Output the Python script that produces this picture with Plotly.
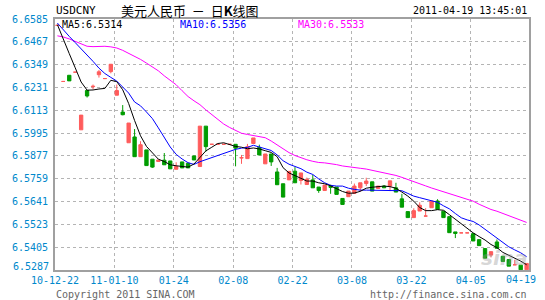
import plotly.graph_objects as go

# ---------------- data ----------------
date_labels = ["10-12-22", "11-01-10", "01-24", "02-08", "02-22",
               "03-08", "03-22", "04-05", "04-19"]
y_labels = ["6.6585", "6.6467", "6.6349", "6.6231", "6.6113", "6.5995",
            "6.5877", "6.5759", "6.5641", "6.5523", "6.5405", "6.5287"]

open_ = [6.6552, 6.6262, 6.6294, 6.6310, 6.6012, 6.6215, 6.6235, 6.6297, 6.6277, 6.6313,
         6.6191, 6.6104, 6.5945, 6.5975, 6.5873, 6.5908, 6.5860, 6.5848, 6.5855, 6.5851,
         6.5808, 6.5846, 6.5839, 6.5877, 6.5822, 6.6031, 6.5937, 6.5937, 6.5937, 6.5937,
         6.5937, 6.5866, 6.5863, 6.5941, 6.5921, 6.5836, 6.5887, 6.5794, 6.5733, 6.5753,
         6.5798, 6.5750, 6.5729, 6.5753, 6.5716, 6.5698, 6.5720, 6.5716, 6.5657, 6.5666,
         6.5683, 6.5712, 6.5734, 6.5743, 6.5709, 6.5721, 6.5721, 6.5712, 6.5655, 6.5589,
         6.5558, 6.5592, 6.5566, 6.5609, 6.5644, 6.5591, 6.5563, 6.5484, 6.5479, 6.5479,
         6.5475, 6.5444, 6.5398, 6.5364, 6.5432, 6.5358, 6.5341, 6.5314, 6.5312, 6.5288]
high = [6.6552, 6.6262, 6.6294, 6.6310, 6.6088, 6.6215, 6.6246, 6.6321, 6.6277, 6.6351,
        6.6246, 6.6140, 6.6047, 6.6016, 6.5953, 6.5908, 6.5860, 6.5856, 6.5892, 6.5851,
        6.5844, 6.5846, 6.5839, 6.5877, 6.6031, 6.6031, 6.5937, 6.5937, 6.5937, 6.5937,
        6.5937, 6.5882, 6.5939, 6.5970, 6.5935, 6.5887, 6.5887, 6.5815, 6.5733, 6.5797,
        6.5819, 6.5789, 6.5765, 6.5779, 6.5716, 6.5726, 6.5728, 6.5716, 6.5657, 6.5695,
        6.5734, 6.5738, 6.5764, 6.5743, 6.5721, 6.5726, 6.5748, 6.5738, 6.5681, 6.5589,
        6.5606, 6.5637, 6.5607, 6.5644, 6.5653, 6.5591, 6.5563, 6.5484, 6.5479, 6.5479,
        6.5478, 6.5444, 6.5398, 6.5382, 6.5445, 6.5358, 6.5341, 6.5340, 6.5312, 6.5321]
low = [6.6552, 6.6262, 6.6265, 6.6310, 6.6012, 6.6179, 6.6222, 6.6282, 6.6277, 6.6304,
       6.6191, 6.6087, 6.5945, 6.5873, 6.5873, 6.5827, 6.5815, 6.5848, 6.5831, 6.5810,
       6.5808, 6.5815, 6.5815, 6.5856, 6.5822, 6.5899, 6.5937, 6.5937, 6.5937, 6.5937,
       6.5823, 6.5836, 6.5863, 6.5941, 6.5882, 6.5836, 6.5825, 6.5728, 6.5664, 6.5753,
       6.5738, 6.5729, 6.5729, 6.5712, 6.5686, 6.5698, 6.5681, 6.5678, 6.5626, 6.5666,
       6.5683, 6.5692, 6.5721, 6.5695, 6.5709, 6.5712, 6.5695, 6.5690, 6.5612, 6.5558,
       6.5558, 6.5592, 6.5566, 6.5609, 6.5601, 6.5558, 6.5480, 6.5452, 6.5479, 6.5479,
       6.5437, 6.5413, 6.5348, 6.5352, 6.5399, 6.5331, 6.5307, 6.5314, 6.5288, 6.5288]
close = [6.6552, 6.6262, 6.6265, 6.6310, 6.6088, 6.6187, 6.6237, 6.6312, 6.6277, 6.6351,
         6.6215, 6.6090, 6.6047, 6.5873, 6.5935, 6.5827, 6.5819, 6.5856, 6.5831, 6.5810,
         6.5822, 6.5815, 6.5815, 6.5856, 6.6031, 6.5925, 6.5937, 6.5937, 6.5937, 6.5937,
         6.5917, 6.5868, 6.5925, 6.5970, 6.5882, 6.5887, 6.5846, 6.5728, 6.5664, 6.5797,
         6.5738, 6.5789, 6.5756, 6.5712, 6.5698, 6.5726, 6.5715, 6.5678, 6.5626, 6.5695,
         6.5721, 6.5738, 6.5747, 6.5695, 6.5721, 6.5712, 6.5748, 6.5690, 6.5612, 6.5558,
         6.5594, 6.5622, 6.5566, 6.5644, 6.5601, 6.5558, 6.5480, 6.5476, 6.5479, 6.5479,
         6.5437, 6.5413, 6.5348, 6.5382, 6.5399, 6.5331, 6.5307, 6.5314, 6.5288, 6.5321]

ma5 = [6.6556, 6.6478, 6.6406, 6.6333, 6.6259, 6.6217, 6.6218, 6.6223, 6.6226, 6.6268,
       6.6261, 6.6219, 6.6148, 6.6060, 6.5981, 6.5926, 6.5892, 6.5860, 6.5848, 6.5831,
       6.5826, 6.5822, 6.5819, 6.5835, 6.5869, 6.5903, 6.5922, 6.5941, 6.5945, 6.5935,
       6.5926, 6.5922, 6.5914, 6.5918, 6.5913, 6.5904, 6.5895, 6.5873, 6.5816, 6.5789,
       6.5777, 6.5761, 6.5747, 6.5747, 6.5738, 6.5733, 6.5722, 6.5707, 6.5693, 6.5684,
       6.5685, 6.5694, 6.5710, 6.5715, 6.5719, 6.5721, 6.5718, 6.5710, 6.5690, 6.5669,
       6.5643, 6.5610, 6.5594, 6.5594, 6.5599, 6.5596, 6.5573, 6.5549, 6.5527, 6.5502,
       6.5479, 6.5460, 6.5442, 6.5419, 6.5403, 6.5378, 6.5364, 6.5349, 6.5333, 6.5314]
ma10 = [6.6564, 6.6527, 6.6495, 6.6463, 6.6432, 6.6402, 6.6366, 6.6331, 6.6303, 6.6283,
        6.6264, 6.6233, 6.6202, 6.6156, 6.6136, 6.6104, 6.6070, 6.6022, 6.5970, 6.5923,
        6.5885, 6.5861, 6.5842, 6.5833, 6.5847, 6.5858, 6.5868, 6.5878, 6.5889, 6.5900,
        6.5911, 6.5917, 6.5921, 6.5932, 6.5923, 6.5916, 6.5905, 6.5882, 6.5852, 6.5834,
        6.5824, 6.5811, 6.5793, 6.5781, 6.5758, 6.5738, 6.5725, 6.5721, 6.5721, 6.5710,
        6.5704, 6.5700, 6.5700, 6.5700, 6.5700, 6.5700, 6.5700, 6.5700, 6.5697, 6.5683,
        6.5669, 6.5661, 6.5653, 6.5645, 6.5637, 6.5619, 6.5603, 6.5579, 6.5557, 6.5546,
        6.5538, 6.5520, 6.5497, 6.5474, 6.5451, 6.5429, 6.5407, 6.5391, 6.5376, 6.5356]
ma30 = [6.6498, 6.6492, 6.6482, 6.6469, 6.6454, 6.6444, 6.6442, 6.6443, 6.6444, 6.6441,
        6.6435, 6.6423, 6.6408, 6.6392, 6.6376, 6.6357, 6.6338, 6.6317, 6.6291, 6.6268,
        6.6245, 6.6214, 6.6184, 6.6162, 6.6142, 6.6115, 6.6089, 6.6065, 6.6042, 6.6024,
        6.6008, 6.5994, 6.5988, 6.5982, 6.5976, 6.5971, 6.5954, 6.5934, 6.5913, 6.5894,
        6.5879, 6.5867, 6.5857, 6.5849, 6.5843, 6.5841, 6.5837, 6.5832, 6.5825, 6.5820,
        6.5815, 6.5813, 6.5809, 6.5803, 6.5796, 6.5788, 6.5784, 6.5776, 6.5766, 6.5754,
        6.5742, 6.5732, 6.5722, 6.5711, 6.5701, 6.5691, 6.5680, 6.5670, 6.5660, 6.5651,
        6.5643, 6.5627, 6.5613, 6.5600, 6.5591, 6.5579, 6.5566, 6.5555, 6.5545, 6.5533]

symbol = "USDCNY"
title_text = "美元人民币  －  日<b>K</b>线图"
timestamp = "2011-04-19 13:45:01"
copyright_text = "Copyright 2011 SINA.COM"
url_text = "http://finance.sina.com.cn"

# ---------------- styling ----------------
W, H = 545, 300
L, R, T, B = 50, 529, 19, 270
RED, GREEN = "#FF5C5C", "#009C00"
MONO = "DejaVu Sans Mono"
TICKBLUE = "#0088CC"


def pxx(x):
    return (x - L) / (R - L)


def pxy(y):
    return (B - y) / (B - T)


n = len(close)
idx = list(range(n))
up = [i for i in idx if close[i] >= open_[i]]
dn = [i for i in idx if close[i] < open_[i]]

fig = go.Figure()


def candle(sel, color):
    return go.Candlestick(
        x=sel,
        open=[open_[i] for i in sel], high=[high[i] for i in sel],
        low=[low[i] for i in sel], close=[close[i] for i in sel],
        increasing=dict(line=dict(color=color, width=1), fillcolor=color),
        decreasing=dict(line=dict(color=color, width=1), fillcolor=color),
        whiskerwidth=0, showlegend=False, hoverinfo="skip")


fig.add_trace(go.Scatter(x=idx, y=ma30, mode="lines",
                         line=dict(color="#FF00FF", width=1), hoverinfo="skip",
                         showlegend=False))
fig.add_trace(candle(up, RED))
fig.add_trace(candle(dn, GREEN))
fig.add_trace(go.Scatter(x=idx, y=ma10, mode="lines",
                         line=dict(color="#0000FF", width=1), hoverinfo="skip",
                         showlegend=False))
fig.add_trace(go.Scatter(x=idx, y=ma5, mode="lines",
                         line=dict(color="#000000", width=1), hoverinfo="skip",
                         showlegend=False))

tick_pos = [10 * k - 0.4 for k in range(len(date_labels) - 1)]
ytick_vals = [float(s) for s in y_labels]

fig.update_layout(
    width=W, height=H,
    margin=dict(l=L, r=W - R, t=T, b=H - B, pad=0),
    paper_bgcolor="white", plot_bgcolor="white",
    boxgap=0.2, boxmode="overlay",
    showlegend=False,
    xaxis=dict(range=[-0.4, 79.4], rangeslider=dict(visible=False),
               tickvals=tick_pos, ticktext=date_labels[:-1],
               showgrid=True, gridcolor="#B4B4B4", griddash="dot", gridwidth=1,
               showline=True, mirror=True, linecolor="#A0A0A0", linewidth=2,
               zeroline=False, ticks="", ticklabelstandoff=0,
               tickfont=dict(family=MONO, size=10, color=TICKBLUE)),
    yaxis=dict(range=[ytick_vals[-1], ytick_vals[0]],
               tickvals=ytick_vals, ticktext=y_labels[:-1] + [""],
               showgrid=True, gridcolor="#B4B4B4", griddash="dot", gridwidth=1,
               showline=True, mirror=True, linecolor="#A0A0A0", linewidth=2,
               zeroline=False, ticks="", ticklabelstandoff=3,
               tickfont=dict(family=MONO, size=10, color=TICKBLUE)),
)

ann = []


def text(t, x, y, anchor, color="black", size=10, family=MONO, xref="paper"):
    ann.append(dict(text=t, x=x, y=pxy(y), xref=xref, yref="paper",
                    xanchor=anchor, yanchor="middle", showarrow=False,
                    font=dict(family=family, size=size, color=color)))


text(symbol, pxx(49), 10.5, "left", size=11)
text(title_text, pxx(186), 10.5, "center", size=13, family="Noto Sans CJK SC")
text(timestamp, pxx(529), 10.5, "right", size=10)
text("MA5:" + f"{ma5[-1]:.4f}", pxx(55), 25, "left", color="#000000")
text("MA10:" + f"{ma10[-1]:.4f}", pxx(174), 25, "left", color="#0000FF")
text("MA30:" + f"{ma30[-1]:.4f}", pxx(294), 25, "left", color="#FF00FF")
text(y_labels[-1], pxx(46), 266.5, "right", color=TICKBLUE)
text(date_labels[-1], 78.0, 279.5, "center", color=TICKBLUE, xref="x")
text(copyright_text, pxx(49), 294.5, "left", color="#666666")
text(url_text, pxx(529), 294.5, "right", color="#666666")
ann.append(dict(text="<i><b>sina</b></i>", x=pxx(504), y=pxy(258), xref="paper",
                yref="paper", xanchor="center", yanchor="middle", showarrow=False,
                font=dict(family="DejaVu Sans", size=20, color="rgba(150,150,150,0.4)")))
fig.update_layout(annotations=ann)

fig.write_html("out.html")
